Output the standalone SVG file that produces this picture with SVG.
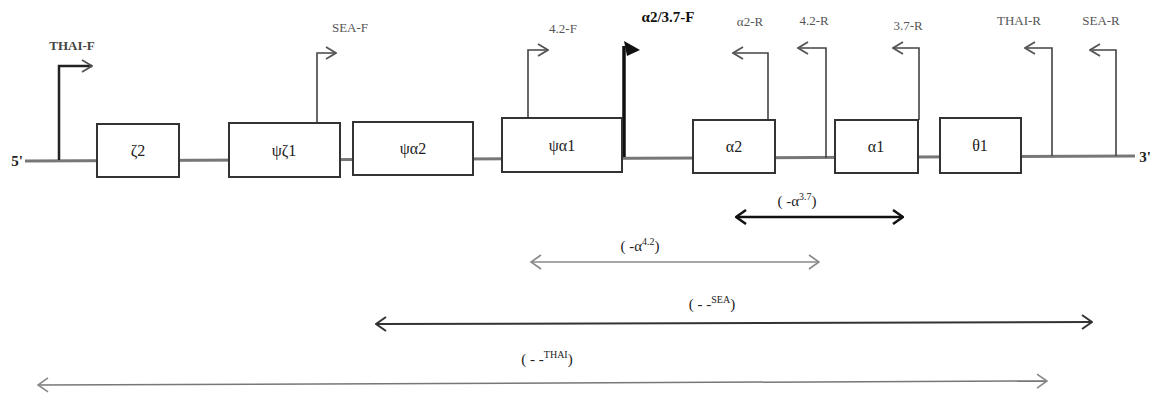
<svg xmlns="http://www.w3.org/2000/svg" width="1159" height="401" viewBox="0 0 1159 401">
<style>
.box{fill:#fff;stroke:#333;stroke-width:2}
.bl{font-family:"Liberation Serif",serif;font-size:16px;fill:#222;text-anchor:middle}
.pl{font-family:"Liberation Serif",serif;font-size:13px;fill:#555;text-anchor:middle}
.rl{font-family:"Liberation Serif",serif;font-size:15px;fill:#222;text-anchor:middle}
.sup{font-size:10px}
.pr{fill:none;stroke:#444;stroke-width:1.6}
</style>
<defs>
<marker id="chk" viewBox="0 0 12 16" refX="11" refY="8" markerWidth="12" markerHeight="16" markerUnits="userSpaceOnUse" orient="auto-start-reverse"><path d="M1,1 L11,8 L1,15" fill="none" stroke="#111" stroke-width="2.5"/></marker>
<marker id="chd" viewBox="0 0 12 16" refX="11" refY="8" markerWidth="12" markerHeight="16" markerUnits="userSpaceOnUse" orient="auto-start-reverse"><path d="M1,1 L11,8 L1,15" fill="none" stroke="#333" stroke-width="2"/></marker>
<marker id="chg" viewBox="0 0 12 16" refX="11" refY="8" markerWidth="12" markerHeight="16" markerUnits="userSpaceOnUse" orient="auto-start-reverse"><path d="M1,1 L11,8 L1,15" fill="none" stroke="#888" stroke-width="1.6"/></marker>
<marker id="pa" viewBox="0 0 12 14" refX="11" refY="7" markerWidth="12" markerHeight="14" markerUnits="userSpaceOnUse" orient="auto"><path d="M1,1 L11,7 L1,13" fill="none" stroke="#555" stroke-width="1.8"/></marker>
</defs>
<rect width="1159" height="401" fill="#fff"/>
<g id="dna">
<line x1="25" y1="161" x2="1135" y2="156" stroke="#777" stroke-width="3"/>
<text x="17" y="166" class="rl" style="font-weight:bold">5'</text>
<text x="1145" y="162" class="rl" style="font-weight:bold">3'</text>
</g>
<g id="connectors">
<path id="thaiF" d="M59,160 V66 H92" fill="none" stroke="#222" stroke-width="2.5" marker-end="url(#pa)"/>
<path id="seaF" d="M317,123 V53 H336" class="pr" stroke-width="2" marker-end="url(#pa)"/>
<path id="f42" d="M528,118 V50 H548" class="pr" marker-end="url(#pa)"/>
<path id="a2F" d="M624,157 V46" fill="none" stroke="#111" stroke-width="3.5"/>
<polygon points="624,41 640,50 627,56" fill="#111"/>
<path id="a2R" d="M768,120 V53 H733" class="pr" marker-end="url(#pa)"/>
<path id="r42" d="M826,158 V48 H798" class="pr" marker-end="url(#pa)"/>
<path id="r37" d="M919,120 V48 H893" class="pr" marker-end="url(#pa)"/>
<path id="thaiR" d="M1052,156 V48 H1025" class="pr" marker-end="url(#pa)"/>
<path id="seaR" d="M1116,156 V50 H1090" class="pr" marker-end="url(#pa)"/>
<line x1="736" y1="217" x2="903" y2="217" stroke="#111" stroke-width="2.5" marker-start="url(#chk)" marker-end="url(#chk)"/>
<line x1="531" y1="262" x2="819" y2="262" stroke="#888" stroke-width="1.5" marker-start="url(#chg)" marker-end="url(#chg)"/>
<line x1="376" y1="324" x2="1092" y2="322" stroke="#333" stroke-width="2" marker-start="url(#chd)" marker-end="url(#chd)"/>
<line x1="38" y1="385" x2="1047" y2="381" stroke="#777" stroke-width="1.5" marker-start="url(#chg)" marker-end="url(#chg)"/>
</g>
<g id="n-z2"><rect class="box" x="97" y="124" width="82" height="53"/><text class="bl" x="138" y="156">ζ2</text></g>
<g id="n-pz1"><rect class="box" x="229" y="123" width="111" height="54"/><text class="bl" x="284" y="156">ψζ1</text></g>
<g id="n-pa2"><rect class="box" x="353" y="122" width="120" height="53"/><text class="bl" x="413" y="154">ψα2</text></g>
<g id="n-pa1"><rect class="box" x="502" y="118" width="120" height="54"/><text class="bl" x="562" y="151">ψα1</text></g>
<g id="n-a2"><rect class="box" x="693" y="120" width="82" height="53"/><text class="bl" x="734" y="152">α2</text></g>
<g id="n-a1"><rect class="box" x="835" y="120" width="83" height="53"/><text class="bl" x="876" y="152">α1</text></g>
<g id="n-t1"><rect class="box" x="940" y="118" width="81" height="55"/><text class="bl" x="980" y="151">θ1</text></g>
<g id="primer-labels">
<text class="pl" x="72" y="50" style="fill:#444;font-weight:bold">THAI-F</text>
<text class="pl" x="350" y="32">SEA-F</text>
<text class="pl" x="563" y="33">4.2-F</text>
<text class="pl" x="668" y="22" style="font-size:15px;font-weight:bold;fill:#111">α2/3.7-F</text>
<text class="pl" x="750" y="26">α2-R</text>
<text class="pl" x="814" y="25">4.2-R</text>
<text class="pl" x="908" y="30">3.7-R</text>
<text class="pl" x="1019" y="25">THAI-R</text>
<text class="pl" x="1101" y="25">SEA-R</text>
</g>
<g id="range-labels">
<text class="rl" x="797" y="206">( -α<tspan class="sup" dy="-6">3.7</tspan><tspan dy="6">)</tspan></text>
<text class="rl" x="640" y="251">( -α<tspan class="sup" dy="-6">4.2</tspan><tspan dy="6">)</tspan></text>
<text class="rl" x="712" y="309">( - -<tspan class="sup" dy="-6">SEA</tspan><tspan dy="6">)</tspan></text>
<text class="rl" x="547" y="364">( - -<tspan class="sup" dy="-6">THAI</tspan><tspan dy="6">)</tspan></text>
</g>
</svg>
